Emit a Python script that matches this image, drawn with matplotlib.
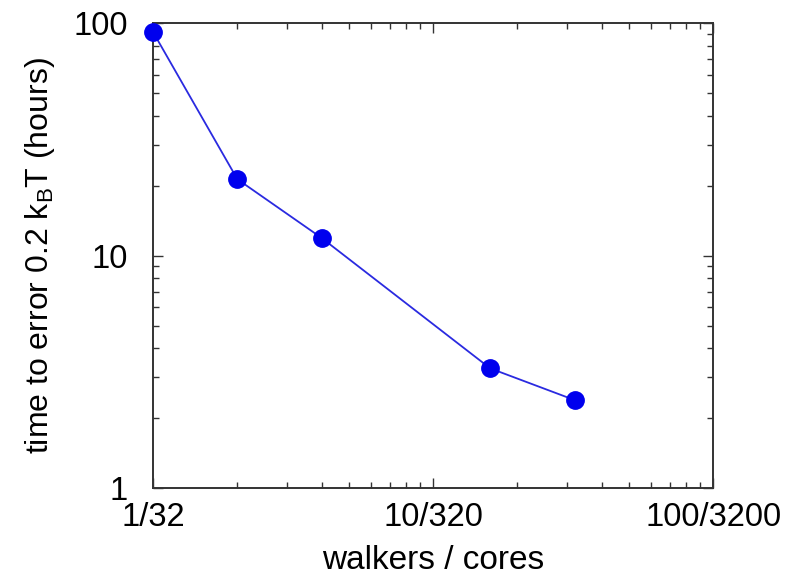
import matplotlib.pyplot as plt
from matplotlib.ticker import FixedLocator, LogLocator, NullFormatter

plt.rcParams['font.family'] = ['Liberation Sans', 'DejaVu Sans']

walkers = [1, 2, 4, 16, 32]
hours = [91.5, 21.3, 11.9, 3.27, 2.39]
xTicks = [1, 10, 100]
xTickLabels = ['1/32', '10/320', '100/3200']
yTicks = [1, 10, 100]
yTickLabels = ['1', '10', '100']

fig = plt.figure(figsize=(7.9, 5.8), dpi=100)
ax = fig.add_axes([0.1937, 0.1586, 0.709, 0.8017])

ax.plot(walkers, hours, '-', color='#2a2ae0', linewidth=1.3, zorder=2)
ax.plot(walkers, hours, 'o', color='#0000ee', markersize=12.5, zorder=3, clip_on=False)

ax.set_xscale('log')
ax.set_yscale('log')
ax.set_xlim(1, 100)
ax.set_ylim(1, 100)

ax.xaxis.set_major_locator(FixedLocator(xTicks))
ax.set_xticklabels(xTickLabels)
ax.yaxis.set_major_locator(FixedLocator(yTicks))
ax.set_yticklabels(yTickLabels)
ax.xaxis.set_minor_locator(LogLocator(base=10, subs=range(2, 10)))
ax.yaxis.set_minor_locator(LogLocator(base=10, subs=range(2, 10)))
ax.xaxis.set_minor_formatter(NullFormatter())
ax.yaxis.set_minor_formatter(NullFormatter())

ax.tick_params(which='both', direction='in', top=True, right=True, color='#333333', width=1.0)
ax.tick_params(which='major', length=7, labelsize=23.5)
ax.tick_params(axis='x', which='major', pad=10)
ax.tick_params(axis='y', which='major', pad=18)
ax.tick_params(which='minor', length=4)
for s in ax.spines.values():
    s.set_linewidth(1.4)
    s.set_color('#333333')

ax.set_xlabel('walkers / cores', fontsize=24, labelpad=9)
ax.set_ylabel('time to error 0.2 k$_\\mathregular{B}$T (hours)', fontsize=23, labelpad=12)

fig.savefig('out.png', dpi=100)
